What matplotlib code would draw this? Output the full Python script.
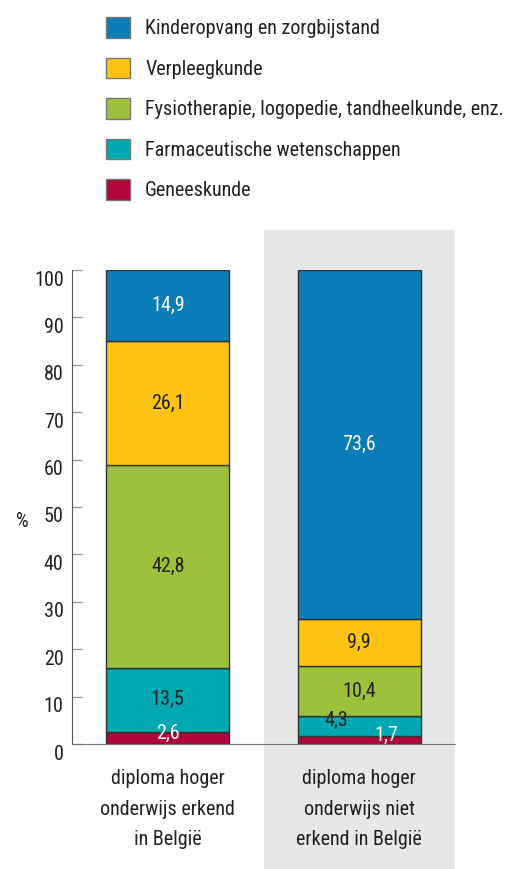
import matplotlib
matplotlib.use("Agg")
import matplotlib.pyplot as plt
from matplotlib import font_manager as fm
from matplotlib.patches import Rectangle
from matplotlib.transforms import blended_transform_factory, ScaledTranslation
import numpy as np

categories = ["diploma hoger\nonderwijs erkend\nin België",
              "diploma hoger\nonderwijs niet\nerkend in België"]
series_names = ["Geneeskunde", "Farmaceutische wetenschappen",
                "Fysiotherapie, logopedie, tandheelkunde, enz.",
                "Verpleegkunde", "Kinderopvang en zorgbijstand"]
geneeskunde = [2.6, 1.7]
farmaceutisch = [13.5, 4.3]
fysiotherapie = [42.8, 10.4]
verpleegkunde = [26.1, 9.9]
kinderopvang = [14.9, 73.6]
yticks = [0, 10, 20, 30, 40, 50, 60, 70, 80, 90, 100]

# pick the narrowest available family
names = {f.name for f in fm.fontManager.ttflist}
family = None
stretch = "normal"
for n in ["Liberation Sans Narrow", "Roboto Condensed", "Open Sans Condensed",
          "Noto Sans Condensed", "DejaVu Sans Condensed", "Arial Narrow"]:
    if n in names:
        family = n
        break
if family is None:
    conds = [f for f in fm.fontManager.ttflist
             if str(f.stretch) in ("condensed", "semi-condensed", "extra-condensed", "575", "600", "625")]
    if conds:
        family = conds[0].name
        stretch = conds[0].stretch
if family is None:
    family = "Roboto" if "Roboto" in names else "Liberation Sans"
plt.rcParams['font.family'] = [family, 'DejaVu Sans']
plt.rcParams['font.stretch'] = stretch

series = [geneeskunde, farmaceutisch, fysiotherapie, verpleegkunde, kinderopvang]
colors = ["#b0063a", "#00a8b2", "#9ec13b", "#fdc312", "#0a7db9"]
label_colors = ["white", "#231f20", "#231f20", "#231f20", "white"]

W, H = 513, 869
fig = plt.figure(figsize=(W / 100, H / 100), dpi=100)

# size the text so the longest legend entry fits the reference width
renderer = fig.canvas.get_renderer()
probe = fig.text(0, 0, max(series_names, key=len), fontsize=17)
wpx = probe.get_window_extent(renderer).width
probe.remove()
fs = min(17.0, 17.0 * 360.0 / wpx)
fpx = fs * 100 / 72

ax = fig.add_axes([72 / W, (H - 744) / H, (455 - 72) / W, (744 - 270) / H])
ax.patch.set_visible(False)

x = np.arange(len(categories))
bottom = np.zeros(len(categories))
handles = []
for i, (vals, c, lc) in enumerate(zip(series, colors, label_colors)):
    vals = np.array(vals)
    b = ax.bar(x, vals, 0.64, bottom=bottom, color=c, edgecolor="#333333",
               linewidth=1.0, zorder=3)
    handles.append(b)
    for j, v in enumerate(vals):
        cx = x[j]
        cy = bottom[j] + v / 2
        if i == 0:
            cy = bottom[j] + v / 2 + 0.9
            if j == 1:
                cx = x[j] + 0.14
        if i == 1 and j == 1:
            cx = x[j] - 0.12
            cy = bottom[j] + v / 2 + 1.2
        ax.text(cx, cy, f"{v:.1f}".replace(".", ","), ha="center", va="center",
                color=lc, fontsize=fs, zorder=5)
    bottom += vals

ax.set_xlim(-0.5, 1.5)
ax.set_ylim(0, 100)
ax.set_yticks(yticks)
ax.set_xticks(x)
ax.set_xticklabels(categories, fontsize=fs, color="#231f20", linespacing=1.78)
ax.tick_params(axis="x", length=0, pad=18)
ax.tick_params(axis="y", direction="in", length=7, width=1, color="#999999",
               labelsize=fs, labelcolor="#231f20", pad=6)
for lab in ax.get_yticklabels():
    lab.set_transform(lab.get_transform() + ScaledTranslation(0, -0.08, fig.dpi_scale_trans))
for s in ["top", "right"]:
    ax.spines[s].set_visible(False)
ax.spines["left"].set_color("#555555")
ax.spines["bottom"].set_color("#777777")

ax.set_ylabel("%", rotation=0, fontsize=fs, color="#231f20")
ax.yaxis.set_label_coords(-0.13, 0.45)

tr = blended_transform_factory(ax.transData, fig.transFigure)
rect = Rectangle((0.5, 0), 1.0, (H - 230) / H, transform=tr,
                 facecolor="#e6e7e9", edgecolor="none", zorder=-1)
fig.add_artist(rect)

leg = fig.legend(handles[::-1], series_names[::-1], loc="upper left",
                 bbox_to_anchor=(92 / W, 1 - 3 / H), frameon=False,
                 fontsize=fs, handlelength=24 / fpx, handleheight=24 / fpx,
                 handletextpad=15 / fpx, labelspacing=19.5 / fpx,
                 borderpad=0.2, labelcolor="#231f20")
for p in leg.get_patches():
    p.set_edgecolor("#777777")

fig.savefig("out.png", dpi=100)
